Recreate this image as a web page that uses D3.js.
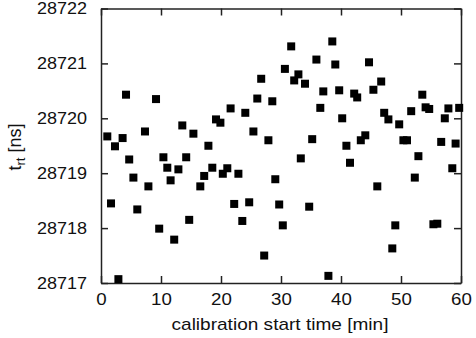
<!DOCTYPE html>
<html><head><meta charset="utf-8">
<script src="https://cdn.jsdelivr.net/npm/d3@7"></script>
<style>
body{margin:0;background:#fff;}
svg text{font-family:"Liberation Sans",Arial,Helvetica,sans-serif;fill:#111;}
</style></head>
<body><svg id="c" width="476" height="338"></svg>
<script>
const xValues = [1.05,1.67,2.33,2.9,3.6,4.17,4.7,5.4,6.05,7.33,7.9,9.17,9.7,10.4,11.05,11.6,12.2,12.9,13.55,14.2,14.7,15.4,16.55,17.2,17.9,18.55,19.17,19.9,20.3,21.05,21.6,22.2,22.9,23.55,24.05,24.7,25.4,26.05,26.7,27.2,27.9,28.55,29.05,29.7,30.3,30.65,31.7,32.2,32.9,33.3,34.0,34.7,35.2,35.9,36.55,37.05,37.9,38.55,39.05,39.7,40.2,40.9,41.5,42.2,42.7,43.3,44.05,44.67,45.4,46.05,46.7,47.2,47.9,48.55,49.05,49.7,50.4,51.0,51.7,52.3,52.9,53.55,54.1,54.7,55.4,56.05,56.7,57.3,57.9,58.55,59.1,59.7];
const yValues = [28719.67,28718.45,28719.49,28717.07,28719.64,28720.43,28719.25,28718.92,28718.34,28719.76,28718.76,28720.35,28717.99,28719.29,28719.1,28718.87,28717.79,28719.07,28719.87,28719.29,28718.15,28719.72,28718.76,28718.95,28719.5,28719.1,28719.98,28719.92,28718.99,28719.09,28720.18,28718.44,28718.99,28718.13,28720.10,28718.47,28719.76,28720.36,28720.72,28717.5,28719.6,28720.31,28718.89,28718.43,28718.05,28720.9,28721.31,28720.69,28720.8,28719.27,28720.63,28718.39,28719.62,28721.07,28720.19,28720.49,28717.13,28721.4,28720.98,28720.51,28720.0,28719.5,28719.19,28720.45,28720.38,28719.6,28719.69,28721.02,28720.52,28718.76,28720.67,28720.10,28719.98,28717.63,28718.05,28719.89,28719.6,28719.6,28720.13,28718.92,28719.31,28720.43,28720.2,28720.17,28718.07,28718.08,28719.57,28720.0,28720.18,28719.09,28719.54,28720.19];
const xTicks = [0,10,20,30,40,50,60];
const yTicks = [28717,28718,28719,28720,28721,28722];
const xLabel = "calibration start time [min]";

const svg = d3.select("#c");
const L=101, R=461, T=8.5, B=283;
const x = d3.scaleLinear().domain([0,60]).range([L,R]);
const y = d3.scaleLinear().domain([28717,28722]).range([B,T]);
const fs = 17;

function stretch(sel,k){
  sel.each(function(){
    const w=this.getComputedTextLength();
    d3.select(this).attr("textLength",w*k).attr("lengthAdjust","spacingAndGlyphs");
  });
}
function styleAxis(g){
  g.selectAll(".domain").attr("stroke","#222").attr("stroke-width",1.5);
  g.selectAll(".tick line").attr("stroke","#222").attr("stroke-width",1.5);
  g.selectAll("text").attr("font-size",fs).attr("font-family",null).attr("fill","#111");
}
const gx = svg.append("g").attr("transform",`translate(0,${B})`)
  .call(d3.axisBottom(x).tickValues(xTicks).tickSize(-7).tickSizeOuter(0).tickPadding(10).tickFormat(d3.format("d")))
  .call(styleAxis);
stretch(gx.selectAll("text"),1.1);
const gy = svg.append("g").attr("transform",`translate(${L},0)`)
  .call(d3.axisLeft(y).tickValues(yTicks).tickSize(-7).tickSizeOuter(0).tickPadding(14).tickFormat(d3.format("d")))
  .call(styleAxis);
stretch(gy.selectAll("text"),1.06);
svg.append("g").attr("transform",`translate(0,${T})`)
  .call(d3.axisTop(x).tickValues(xTicks).tickSize(-7).tickSizeOuter(0).tickFormat(""))
  .call(styleAxis);
svg.append("g").attr("transform",`translate(${R},0)`)
  .call(d3.axisRight(y).tickValues(yTicks).tickSize(-7).tickSizeOuter(0).tickFormat(""))
  .call(styleAxis);

const s = 8;
svg.append("g").selectAll("rect").data(xValues.map((v,i)=>[v,yValues[i]])).join("rect")
  .attr("x",d=>x(d[0])-s/2).attr("y",d=>y(d[1])-s/2).attr("width",s).attr("height",s).attr("fill","#000");

const xl = svg.append("text").attr("x",(L+R)/2 - 1).attr("y",330).attr("text-anchor","middle").attr("font-size",fs).text(xLabel);
stretch(xl,1.12);
const yt = svg.append("text").attr("transform",`translate(21,147) rotate(-90)`).attr("text-anchor","middle").attr("font-size",18);
yt.append("tspan").text("t");
yt.append("tspan").attr("font-size",13).attr("dy",4).text("rt");
yt.append("tspan").attr("dy",-4).text(" [ns]");
</script></body></html>
